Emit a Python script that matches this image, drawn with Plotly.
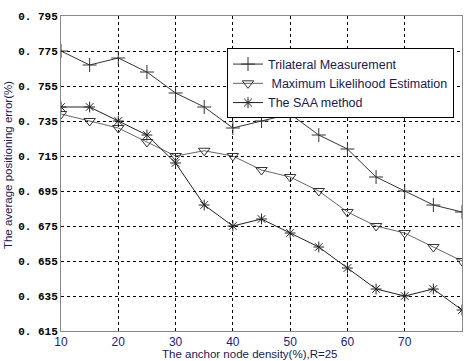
import plotly.graph_objects as go

density = [10, 15, 20, 25, 30, 35, 40, 45, 50, 55, 60, 65, 70, 75, 80]
trilateral = [0.775, 0.767, 0.771, 0.763, 0.751, 0.743, 0.731, 0.735, 0.739, 0.727, 0.719, 0.703, 0.695, 0.687, 0.683]
mle = [0.739, 0.735, 0.731, 0.723, 0.715, 0.718, 0.715, 0.707, 0.703, 0.695, 0.683, 0.675, 0.671, 0.663, 0.655]
saa = [0.743, 0.743, 0.735, 0.727, 0.711, 0.687, 0.675, 0.679, 0.671, 0.663, 0.651, 0.639, 0.635, 0.639, 0.627]

y_ticks = [0.615, 0.635, 0.655, 0.675, 0.695, 0.715, 0.735, 0.755, 0.775, 0.795]
y_labels = ["0. 615", "0. 635", "0. 655", "0. 675", "0. 695", "0. 715", "0. 735", "0. 755", "0. 775", "0. 795"]
x_ticks = [10, 20, 30, 40, 50, 60, 70, 80]
x_title = "The anchor node density(%),R=25"
y_title = "The average positioning error(%)"

fig = go.Figure()
fig.add_trace(go.Scatter(
    x=density, y=trilateral, mode="lines+markers", name="Trilateral Measurement",
    line=dict(color="#333333", width=1),
    marker=dict(symbol="cross-thin-open", size=10, line=dict(color="#111111", width=1)),
))
fig.add_trace(go.Scatter(
    x=density, y=mle, mode="lines+markers", name=" Maximum Likelihood Estimation",
    line=dict(color="#666666", width=1),
    marker=dict(symbol="triangle-down-open", size=10, color="#333333", line=dict(color="#333333", width=1)),
))
fig.add_trace(go.Scatter(
    x=density, y=saa, mode="lines+markers", name="The SAA method",
    line=dict(color="#222222", width=1),
    marker=dict(symbol="asterisk-open", size=9, line=dict(color="#111111", width=1)),
))

fig.update_layout(
    width=465, height=361,
    margin=dict(l=61, r=3, t=16, b=30, autoexpand=False),
    paper_bgcolor="white", plot_bgcolor="white",
    font=dict(family="Liberation Sans, Arial", size=12, color="#1a1a50"),
    showlegend=True,
    legend=dict(
        x=0.414, y=0.897, xanchor="left", yanchor="top",
        bgcolor="white", bordercolor="#000000", borderwidth=1,
        font=dict(family="Liberation Sans, Arial", size=12.5, color="#1a1a50"),
        tracegroupgap=0, itemwidth=30,
    ),
    xaxis=dict(
        range=[10, 80], tickvals=x_ticks, ticks="", automargin=False,
        showgrid=True, gridcolor="#000000", griddash="3px,3px", gridwidth=1,
        showline=True, linecolor="#888888", linewidth=1, mirror=True,
        zeroline=False,
        tickfont=dict(family="Liberation Sans, Arial", size=12, color="#22227a"),
    ),
    yaxis=dict(
        range=[0.615, 0.795], tickvals=y_ticks, ticktext=y_labels, ticks="", automargin=False,
        showgrid=True, gridcolor="#000000", griddash="3px,3px", gridwidth=1,
        showline=True, linecolor="#888888", linewidth=1, mirror=True,
        zeroline=False,
        tickfont=dict(family="Liberation Mono, Courier New", size=11, color="#000000", weight="bold"),
    ),
    annotations=[
        dict(text=x_title, xref="paper", yref="paper", x=0.471, y=-0.073,
             xanchor="center", yanchor="middle", showarrow=False,
             font=dict(family="Liberation Sans, Arial", size=11.5, color="#1a1a50")),
        dict(text=y_title, xref="paper", yref="paper", x=-0.132, y=0.527,
             xanchor="center", yanchor="middle", showarrow=False, textangle=-90,
             font=dict(family="Liberation Sans, Arial", size=11.5, color="#1a1a50")),
    ],
)

fig.write_html("out.html", config={"displayModeBar": False},
               post_script="document.body.style.margin='0px';")
